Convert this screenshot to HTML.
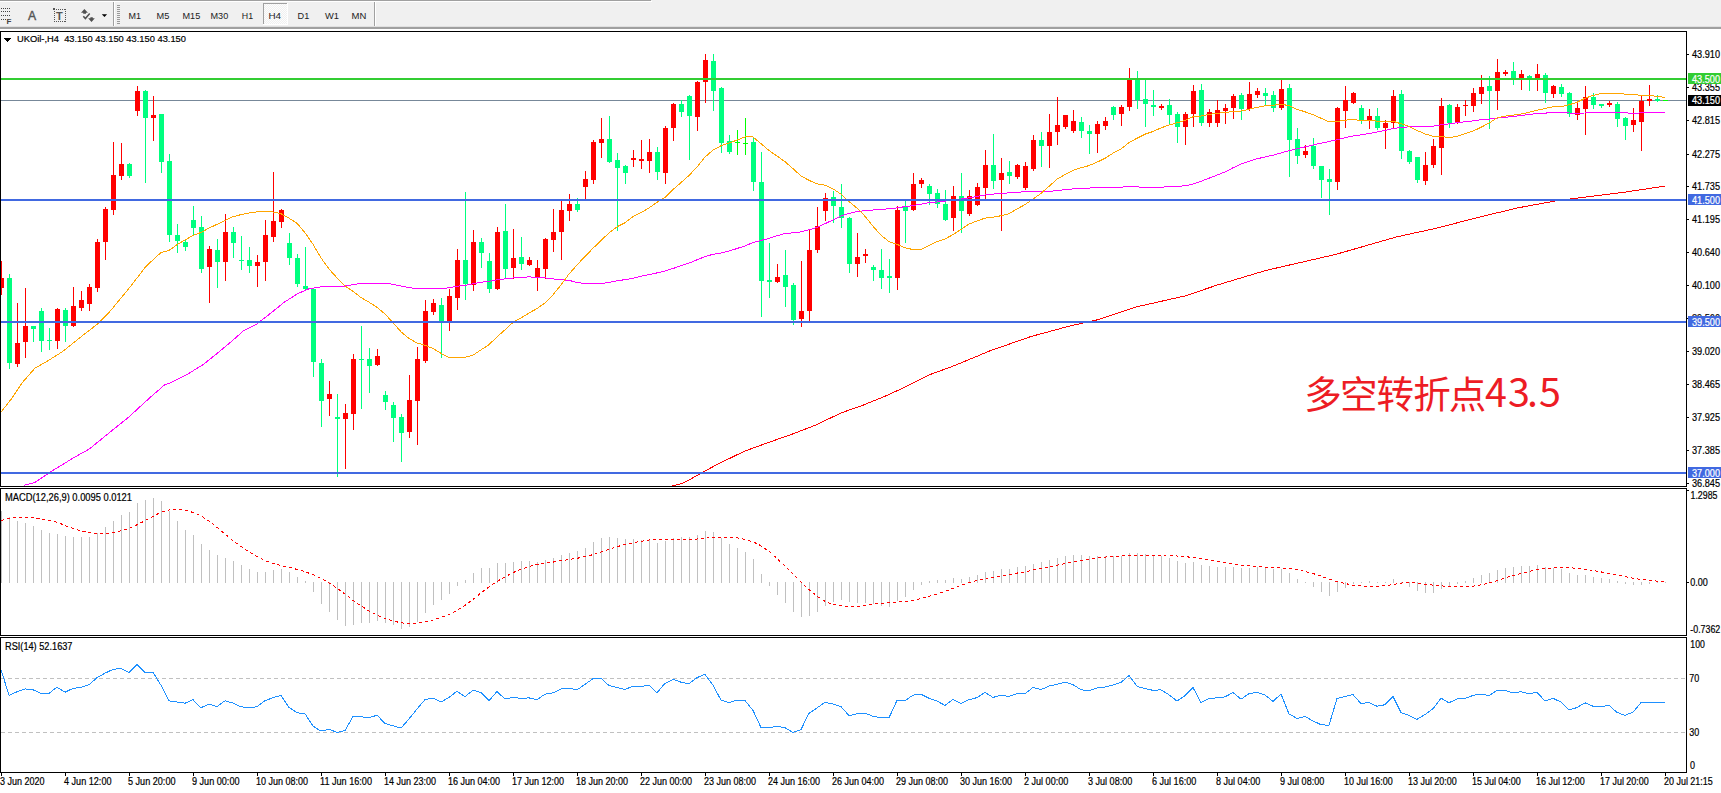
<!DOCTYPE html>
<html><head><meta charset="utf-8"><title>UKOil H4</title>
<style>html,body{margin:0;padding:0;background:#fff;overflow:hidden}svg{display:block}text{font-family:'Liberation Sans', 'Noto Sans CJK SC', sans-serif;shape-rendering:auto}</style>
</head><body>
<svg width="1721" height="793" viewBox="0 0 1721 793" shape-rendering="crispEdges">
<g font-family="'Liberation Sans', 'Noto Sans CJK SC', sans-serif"><rect x="0" y="0" width="1721" height="27" fill="#f0f0f0"/><rect x="0" y="0" width="651" height="1" fill="#a0a0a0"/><rect x="0" y="1" width="652" height="1" fill="#ffffff"/><rect x="0" y="26" width="1721" height="1" fill="#e0e0e0"/><rect x="0" y="27" width="1721" height="1" fill="#a0a0a0"/><rect x="0" y="28" width="1721" height="1" fill="#a0a0a0"/><rect x="113" y="2" width="1" height="24" fill="#a0a0a0"/><rect x="114" y="2" width="1" height="24" fill="#ffffff"/><rect x="374" y="2" width="1" height="24" fill="#a0a0a0"/><rect x="375" y="2" width="1" height="24" fill="#ffffff"/><rect x="117" y="5" width="3" height="1" fill="#9a9a9a"/><rect x="117" y="7" width="3" height="1" fill="#9a9a9a"/><rect x="117" y="9" width="3" height="1" fill="#9a9a9a"/><rect x="117" y="11" width="3" height="1" fill="#9a9a9a"/><rect x="117" y="13" width="3" height="1" fill="#9a9a9a"/><rect x="117" y="15" width="3" height="1" fill="#9a9a9a"/><rect x="117" y="17" width="3" height="1" fill="#9a9a9a"/><rect x="117" y="19" width="3" height="1" fill="#9a9a9a"/><rect x="117" y="21" width="3" height="1" fill="#9a9a9a"/><rect x="117" y="23" width="3" height="1" fill="#9a9a9a"/><defs><pattern id="chk" x="0" y="0" width="2" height="2" patternUnits="userSpaceOnUse"><rect width="2" height="2" fill="#f0f0f0"/><rect width="1" height="1" fill="#fdfdfd"/><rect x="1" y="1" width="1" height="1" fill="#fdfdfd"/></pattern></defs><rect x="263" y="3" width="25" height="22" fill="url(#chk)"/><rect x="263" y="3" width="25" height="1" fill="#a0a0a0"/><rect x="263" y="3" width="1" height="22" fill="#a0a0a0"/><rect x="263" y="24" width="25" height="1" fill="#ffffff"/><rect x="287" y="3" width="1" height="22" fill="#ffffff"/><text x="128.5" y="19" font-size="9.6" textLength="12.5" lengthAdjust="spacingAndGlyphs" fill="#222">M1</text><text x="156.5" y="19" font-size="9.6" textLength="12.8" lengthAdjust="spacingAndGlyphs" fill="#222">M5</text><text x="182.5" y="19" font-size="9.6" textLength="17.8" lengthAdjust="spacingAndGlyphs" fill="#222">M15</text><text x="210.5" y="19" font-size="9.6" textLength="17.7" lengthAdjust="spacingAndGlyphs" fill="#222">M30</text><text x="241.8" y="19" font-size="9.6" textLength="11.3" lengthAdjust="spacingAndGlyphs" fill="#222">H1</text><text x="268.4" y="19" font-size="9.6" textLength="12.6" lengthAdjust="spacingAndGlyphs" fill="#222">H4</text><text x="297.6" y="19" font-size="9.6" textLength="11.7" lengthAdjust="spacingAndGlyphs" fill="#222">D1</text><text x="325" y="19" font-size="9.6" textLength="14" lengthAdjust="spacingAndGlyphs" fill="#222">W1</text><text x="351.6" y="19" font-size="9.6" textLength="14.8" lengthAdjust="spacingAndGlyphs" fill="#222">MN</text><rect x="1" y="8" width="1" height="1" fill="#444"/><rect x="3" y="8" width="1" height="1" fill="#444"/><rect x="5" y="8" width="1" height="1" fill="#444"/><rect x="7" y="8" width="1" height="1" fill="#444"/><rect x="9" y="8" width="1" height="1" fill="#444"/><rect x="1" y="11" width="1" height="1" fill="#444"/><rect x="3" y="11" width="1" height="1" fill="#444"/><rect x="5" y="11" width="1" height="1" fill="#444"/><rect x="7" y="11" width="1" height="1" fill="#444"/><rect x="9" y="11" width="1" height="1" fill="#444"/><rect x="1" y="15" width="1" height="1" fill="#444"/><rect x="3" y="15" width="1" height="1" fill="#444"/><rect x="5" y="15" width="1" height="1" fill="#444"/><rect x="7" y="15" width="1" height="1" fill="#444"/><rect x="9" y="15" width="1" height="1" fill="#444"/><rect x="1" y="19" width="1" height="1" fill="#444"/><rect x="3" y="19" width="1" height="1" fill="#444"/><rect x="5" y="19" width="1" height="1" fill="#444"/><text x="6.5" y="24" font-size="8" font-weight="bold" fill="#444">F</text><text x="28" y="20" font-size="12.2" fill="#555" stroke="#555" stroke-width="0.4">A</text><rect x="54" y="9" width="1" height="1" fill="#555"/><rect x="54" y="21" width="1" height="1" fill="#555"/><rect x="56" y="9" width="1" height="1" fill="#555"/><rect x="56" y="21" width="1" height="1" fill="#555"/><rect x="58" y="9" width="1" height="1" fill="#555"/><rect x="58" y="21" width="1" height="1" fill="#555"/><rect x="60" y="9" width="1" height="1" fill="#555"/><rect x="60" y="21" width="1" height="1" fill="#555"/><rect x="62" y="9" width="1" height="1" fill="#555"/><rect x="62" y="21" width="1" height="1" fill="#555"/><rect x="64" y="9" width="1" height="1" fill="#555"/><rect x="64" y="21" width="1" height="1" fill="#555"/><rect x="54" y="9" width="1" height="1" fill="#555"/><rect x="65" y="9" width="1" height="1" fill="#555"/><rect x="54" y="11" width="1" height="1" fill="#555"/><rect x="65" y="11" width="1" height="1" fill="#555"/><rect x="54" y="13" width="1" height="1" fill="#555"/><rect x="65" y="13" width="1" height="1" fill="#555"/><rect x="54" y="15" width="1" height="1" fill="#555"/><rect x="65" y="15" width="1" height="1" fill="#555"/><rect x="54" y="17" width="1" height="1" fill="#555"/><rect x="65" y="17" width="1" height="1" fill="#555"/><rect x="54" y="19" width="1" height="1" fill="#555"/><rect x="65" y="19" width="1" height="1" fill="#555"/><rect x="54" y="21" width="1" height="1" fill="#555"/><rect x="65" y="21" width="1" height="1" fill="#555"/><rect x="53" y="8" width="2" height="2" fill="#555"/><text x="56" y="20" font-size="11" font-weight="bold" fill="#555">T</text><path d="M81,12.8 L84.4,9 L87.9,12.8 L86,12.8 L86,13.8 L83.2,13.8 L83.2,12.8 Z" fill="#505050" shape-rendering="auto"/><path d="M83.3,16.2 L85.4,18.6 L89.7,13.4" stroke="#505050" stroke-width="1.5" fill="none" shape-rendering="auto"/><path d="M90.4,17.2 L92.8,17.2 L92.8,18.2 L94.8,18.2 L91.5,21.9 L88.2,18.2 L90.4,18.2 Z" fill="#505050" shape-rendering="auto"/><path d="M101.8,14.2 L107.1,14.2 L104.45,17.1 Z" fill="#000" shape-rendering="auto"/></g>
<rect x="0" y="29" width="1721" height="764" fill="#ffffff"/>
<rect x="1" y="100" width="1685" height="1" fill="#778899"/><rect x="1" y="261" width="1" height="34" fill="#ff0000"/><rect x="-1" y="278" width="5" height="10" fill="#ff0000"/><rect x="9" y="274" width="1" height="95" fill="#00ff7f"/><rect x="7" y="278" width="5" height="85" fill="#00ff7f"/><rect x="17" y="303" width="1" height="64" fill="#ff0000"/><rect x="15" y="343" width="5" height="21" fill="#ff0000"/><rect x="25" y="288" width="1" height="70" fill="#ff0000"/><rect x="23" y="326" width="5" height="16" fill="#ff0000"/><rect x="33" y="326" width="1" height="16" fill="#00ff7f"/><rect x="31" y="326" width="5" height="3" fill="#00ff7f"/><rect x="41" y="308" width="1" height="44" fill="#00ff7f"/><rect x="39" y="311" width="5" height="30" fill="#00ff7f"/><rect x="49" y="328" width="1" height="22" fill="#00ff7f"/><rect x="47" y="340" width="5" height="1" fill="#00ff7f"/><rect x="57" y="308" width="1" height="41" fill="#ff0000"/><rect x="55" y="309" width="5" height="32" fill="#ff0000"/><rect x="65" y="308" width="1" height="34" fill="#00ff7f"/><rect x="63" y="310" width="5" height="16" fill="#00ff7f"/><rect x="73" y="287" width="1" height="40" fill="#ff0000"/><rect x="71" y="306" width="5" height="20" fill="#ff0000"/><rect x="81" y="291" width="1" height="20" fill="#ff0000"/><rect x="79" y="300" width="5" height="8" fill="#ff0000"/><rect x="89" y="284" width="1" height="27" fill="#ff0000"/><rect x="87" y="287" width="5" height="17" fill="#ff0000"/><rect x="97" y="239" width="1" height="53" fill="#ff0000"/><rect x="95" y="242" width="5" height="46" fill="#ff0000"/><rect x="105" y="207" width="1" height="53" fill="#ff0000"/><rect x="103" y="209" width="5" height="33" fill="#ff0000"/><rect x="113" y="142" width="1" height="73" fill="#ff0000"/><rect x="111" y="175" width="5" height="35" fill="#ff0000"/><rect x="121" y="143" width="1" height="37" fill="#ff0000"/><rect x="119" y="164" width="5" height="12" fill="#ff0000"/><rect x="129" y="163" width="1" height="15" fill="#00ff7f"/><rect x="127" y="164" width="5" height="12" fill="#00ff7f"/><rect x="137" y="86" width="1" height="30" fill="#ff0000"/><rect x="135" y="91" width="5" height="20" fill="#ff0000"/><rect x="145" y="90" width="1" height="93" fill="#00ff7f"/><rect x="143" y="91" width="5" height="27" fill="#00ff7f"/><rect x="153" y="96" width="1" height="45" fill="#ff0000"/><rect x="151" y="115" width="5" height="3" fill="#ff0000"/><rect x="161" y="114" width="1" height="59" fill="#00ff7f"/><rect x="159" y="114" width="5" height="48" fill="#00ff7f"/><rect x="169" y="154" width="1" height="88" fill="#00ff7f"/><rect x="167" y="161" width="5" height="74" fill="#00ff7f"/><rect x="177" y="224" width="1" height="29" fill="#00ff7f"/><rect x="175" y="235" width="5" height="6" fill="#00ff7f"/><rect x="185" y="240" width="1" height="11" fill="#00ff7f"/><rect x="183" y="242" width="5" height="5" fill="#00ff7f"/><rect x="193" y="206" width="1" height="30" fill="#00ff7f"/><rect x="191" y="220" width="5" height="8" fill="#00ff7f"/><rect x="201" y="216" width="1" height="57" fill="#00ff7f"/><rect x="199" y="227" width="5" height="42" fill="#00ff7f"/><rect x="209" y="246" width="1" height="57" fill="#ff0000"/><rect x="207" y="249" width="5" height="18" fill="#ff0000"/><rect x="217" y="239" width="1" height="49" fill="#00ff7f"/><rect x="215" y="250" width="5" height="12" fill="#00ff7f"/><rect x="225" y="214" width="1" height="67" fill="#ff0000"/><rect x="223" y="232" width="5" height="30" fill="#ff0000"/><rect x="233" y="227" width="1" height="31" fill="#00ff7f"/><rect x="231" y="232" width="5" height="11" fill="#00ff7f"/><rect x="241" y="236" width="1" height="34" fill="#00ff7f"/><rect x="239" y="260" width="5" height="1" fill="#00ff7f"/><rect x="249" y="247" width="1" height="26" fill="#00ff7f"/><rect x="247" y="260" width="5" height="6" fill="#00ff7f"/><rect x="257" y="255" width="1" height="32" fill="#ff0000"/><rect x="255" y="262" width="5" height="4" fill="#ff0000"/><rect x="265" y="220" width="1" height="61" fill="#ff0000"/><rect x="263" y="235" width="5" height="27" fill="#ff0000"/><rect x="273" y="172" width="1" height="70" fill="#ff0000"/><rect x="271" y="221" width="5" height="16" fill="#ff0000"/><rect x="281" y="209" width="1" height="19" fill="#ff0000"/><rect x="279" y="210" width="5" height="12" fill="#ff0000"/><rect x="289" y="233" width="1" height="32" fill="#00ff7f"/><rect x="287" y="243" width="5" height="15" fill="#00ff7f"/><rect x="297" y="254" width="1" height="33" fill="#00ff7f"/><rect x="295" y="258" width="5" height="26" fill="#00ff7f"/><rect x="305" y="247" width="1" height="44" fill="#00ff7f"/><rect x="303" y="286" width="5" height="3" fill="#00ff7f"/><rect x="313" y="288" width="1" height="89" fill="#00ff7f"/><rect x="311" y="289" width="5" height="73" fill="#00ff7f"/><rect x="321" y="359" width="1" height="68" fill="#00ff7f"/><rect x="319" y="363" width="5" height="38" fill="#00ff7f"/><rect x="329" y="381" width="1" height="35" fill="#ff0000"/><rect x="327" y="394" width="5" height="5" fill="#ff0000"/><rect x="337" y="394" width="1" height="83" fill="#00ff7f"/><rect x="335" y="417" width="5" height="2" fill="#00ff7f"/><rect x="345" y="404" width="1" height="65" fill="#ff0000"/><rect x="343" y="413" width="5" height="6" fill="#ff0000"/><rect x="353" y="354" width="1" height="76" fill="#ff0000"/><rect x="351" y="359" width="5" height="55" fill="#ff0000"/><rect x="361" y="326" width="1" height="83" fill="#00ff7f"/><rect x="359" y="359" width="5" height="1" fill="#00ff7f"/><rect x="369" y="348" width="1" height="45" fill="#00ff7f"/><rect x="367" y="359" width="5" height="7" fill="#00ff7f"/><rect x="377" y="349" width="1" height="17" fill="#ff0000"/><rect x="375" y="356" width="5" height="9" fill="#ff0000"/><rect x="385" y="391" width="1" height="19" fill="#00ff7f"/><rect x="383" y="395" width="5" height="7" fill="#00ff7f"/><rect x="393" y="402" width="1" height="40" fill="#00ff7f"/><rect x="391" y="405" width="5" height="13" fill="#00ff7f"/><rect x="401" y="414" width="1" height="48" fill="#00ff7f"/><rect x="399" y="417" width="5" height="16" fill="#00ff7f"/><rect x="409" y="375" width="1" height="63" fill="#ff0000"/><rect x="407" y="400" width="5" height="32" fill="#ff0000"/><rect x="417" y="347" width="1" height="98" fill="#ff0000"/><rect x="415" y="359" width="5" height="42" fill="#ff0000"/><rect x="425" y="300" width="1" height="63" fill="#ff0000"/><rect x="423" y="311" width="5" height="50" fill="#ff0000"/><rect x="433" y="299" width="1" height="16" fill="#ff0000"/><rect x="431" y="303" width="5" height="9" fill="#ff0000"/><rect x="441" y="298" width="1" height="60" fill="#00ff7f"/><rect x="439" y="305" width="5" height="16" fill="#00ff7f"/><rect x="449" y="289" width="1" height="42" fill="#ff0000"/><rect x="447" y="296" width="5" height="25" fill="#ff0000"/><rect x="457" y="249" width="1" height="61" fill="#ff0000"/><rect x="455" y="260" width="5" height="38" fill="#ff0000"/><rect x="465" y="192" width="1" height="108" fill="#00ff7f"/><rect x="463" y="260" width="5" height="24" fill="#00ff7f"/><rect x="473" y="230" width="1" height="61" fill="#ff0000"/><rect x="471" y="242" width="5" height="43" fill="#ff0000"/><rect x="481" y="238" width="1" height="30" fill="#00ff7f"/><rect x="479" y="242" width="5" height="11" fill="#00ff7f"/><rect x="489" y="253" width="1" height="40" fill="#00ff7f"/><rect x="487" y="261" width="5" height="28" fill="#00ff7f"/><rect x="497" y="227" width="1" height="63" fill="#ff0000"/><rect x="495" y="232" width="5" height="57" fill="#ff0000"/><rect x="505" y="204" width="1" height="74" fill="#00ff7f"/><rect x="503" y="231" width="5" height="38" fill="#00ff7f"/><rect x="513" y="229" width="1" height="50" fill="#ff0000"/><rect x="511" y="258" width="5" height="10" fill="#ff0000"/><rect x="521" y="237" width="1" height="33" fill="#00ff7f"/><rect x="519" y="257" width="5" height="7" fill="#00ff7f"/><rect x="529" y="257" width="1" height="9" fill="#ff0000"/><rect x="527" y="260" width="5" height="5" fill="#ff0000"/><rect x="537" y="260" width="1" height="31" fill="#ff0000"/><rect x="535" y="268" width="5" height="9" fill="#ff0000"/><rect x="545" y="238" width="1" height="41" fill="#ff0000"/><rect x="543" y="239" width="5" height="30" fill="#ff0000"/><rect x="553" y="209" width="1" height="43" fill="#ff0000"/><rect x="551" y="232" width="5" height="8" fill="#ff0000"/><rect x="561" y="201" width="1" height="59" fill="#ff0000"/><rect x="559" y="210" width="5" height="22" fill="#ff0000"/><rect x="569" y="194" width="1" height="27" fill="#ff0000"/><rect x="567" y="204" width="5" height="7" fill="#ff0000"/><rect x="577" y="198" width="1" height="14" fill="#00ff7f"/><rect x="575" y="204" width="5" height="6" fill="#00ff7f"/><rect x="585" y="171" width="1" height="29" fill="#ff0000"/><rect x="583" y="179" width="5" height="8" fill="#ff0000"/><rect x="593" y="140" width="1" height="44" fill="#ff0000"/><rect x="591" y="142" width="5" height="38" fill="#ff0000"/><rect x="601" y="118" width="1" height="40" fill="#ff0000"/><rect x="599" y="139" width="5" height="4" fill="#ff0000"/><rect x="609" y="116" width="1" height="47" fill="#00ff7f"/><rect x="607" y="139" width="5" height="23" fill="#00ff7f"/><rect x="617" y="153" width="1" height="78" fill="#00ff7f"/><rect x="615" y="160" width="5" height="8" fill="#00ff7f"/><rect x="625" y="165" width="1" height="19" fill="#00ff7f"/><rect x="623" y="166" width="5" height="7" fill="#00ff7f"/><rect x="633" y="150" width="1" height="17" fill="#ff0000"/><rect x="631" y="158" width="5" height="2" fill="#ff0000"/><rect x="641" y="140" width="1" height="29" fill="#ff0000"/><rect x="639" y="159" width="5" height="2" fill="#ff0000"/><rect x="649" y="139" width="1" height="34" fill="#ff0000"/><rect x="647" y="152" width="5" height="9" fill="#ff0000"/><rect x="657" y="147" width="1" height="33" fill="#00ff7f"/><rect x="655" y="152" width="5" height="20" fill="#00ff7f"/><rect x="665" y="126" width="1" height="58" fill="#ff0000"/><rect x="663" y="128" width="5" height="45" fill="#ff0000"/><rect x="673" y="103" width="1" height="38" fill="#ff0000"/><rect x="671" y="104" width="5" height="24" fill="#ff0000"/><rect x="681" y="100" width="1" height="17" fill="#00ff7f"/><rect x="679" y="104" width="5" height="8" fill="#00ff7f"/><rect x="689" y="95" width="1" height="65" fill="#00ff7f"/><rect x="687" y="96" width="5" height="20" fill="#00ff7f"/><rect x="697" y="81" width="1" height="50" fill="#ff0000"/><rect x="695" y="82" width="5" height="35" fill="#ff0000"/><rect x="705" y="54" width="1" height="49" fill="#ff0000"/><rect x="703" y="60" width="5" height="22" fill="#ff0000"/><rect x="713" y="54" width="1" height="57" fill="#00ff7f"/><rect x="711" y="61" width="5" height="30" fill="#00ff7f"/><rect x="721" y="87" width="1" height="66" fill="#00ff7f"/><rect x="719" y="88" width="5" height="55" fill="#00ff7f"/><rect x="729" y="135" width="1" height="19" fill="#00ff7f"/><rect x="727" y="141" width="5" height="11" fill="#00ff7f"/><rect x="737" y="130" width="1" height="25" fill="#00ff00"/><rect x="735" y="142" width="5" height="1" fill="#00ff00"/><rect x="745" y="118" width="1" height="37" fill="#00ff00"/><rect x="743" y="143" width="5" height="1" fill="#00ff00"/><rect x="753" y="138" width="1" height="53" fill="#00ff7f"/><rect x="751" y="142" width="5" height="40" fill="#00ff7f"/><rect x="761" y="152" width="1" height="165" fill="#00ff7f"/><rect x="759" y="182" width="5" height="99" fill="#00ff7f"/><rect x="769" y="243" width="1" height="55" fill="#00ff7f"/><rect x="767" y="280" width="5" height="2" fill="#00ff7f"/><rect x="777" y="264" width="1" height="19" fill="#ff0000"/><rect x="775" y="277" width="5" height="5" fill="#ff0000"/><rect x="785" y="250" width="1" height="57" fill="#00ff7f"/><rect x="783" y="275" width="5" height="12" fill="#00ff7f"/><rect x="793" y="283" width="1" height="42" fill="#00ff7f"/><rect x="791" y="285" width="5" height="35" fill="#00ff7f"/><rect x="801" y="261" width="1" height="66" fill="#ff0000"/><rect x="799" y="311" width="5" height="8" fill="#ff0000"/><rect x="809" y="230" width="1" height="91" fill="#ff0000"/><rect x="807" y="250" width="5" height="61" fill="#ff0000"/><rect x="817" y="207" width="1" height="46" fill="#ff0000"/><rect x="815" y="226" width="5" height="24" fill="#ff0000"/><rect x="825" y="193" width="1" height="28" fill="#ff0000"/><rect x="823" y="198" width="5" height="13" fill="#ff0000"/><rect x="833" y="191" width="1" height="32" fill="#00ff7f"/><rect x="831" y="197" width="5" height="9" fill="#00ff7f"/><rect x="841" y="184" width="1" height="44" fill="#00ff7f"/><rect x="839" y="207" width="5" height="11" fill="#00ff7f"/><rect x="849" y="217" width="1" height="56" fill="#00ff7f"/><rect x="847" y="218" width="5" height="46" fill="#00ff7f"/><rect x="857" y="233" width="1" height="44" fill="#ff0000"/><rect x="855" y="257" width="5" height="7" fill="#ff0000"/><rect x="865" y="249" width="1" height="14" fill="#ff0000"/><rect x="863" y="254" width="5" height="2" fill="#ff0000"/><rect x="873" y="265" width="1" height="16" fill="#00ff7f"/><rect x="871" y="267" width="5" height="3" fill="#00ff7f"/><rect x="881" y="249" width="1" height="40" fill="#00ff7f"/><rect x="879" y="270" width="5" height="8" fill="#00ff7f"/><rect x="889" y="259" width="1" height="34" fill="#00ff7f"/><rect x="887" y="276" width="5" height="2" fill="#00ff7f"/><rect x="897" y="206" width="1" height="84" fill="#ff0000"/><rect x="895" y="210" width="5" height="68" fill="#ff0000"/><rect x="905" y="199" width="1" height="44" fill="#00ff7f"/><rect x="903" y="207" width="5" height="4" fill="#00ff7f"/><rect x="913" y="173" width="1" height="38" fill="#ff0000"/><rect x="911" y="184" width="5" height="26" fill="#ff0000"/><rect x="921" y="178" width="1" height="10" fill="#ff0000"/><rect x="919" y="180" width="5" height="4" fill="#ff0000"/><rect x="929" y="184" width="1" height="21" fill="#00ff7f"/><rect x="927" y="186" width="5" height="8" fill="#00ff7f"/><rect x="937" y="189" width="1" height="19" fill="#00ff7f"/><rect x="935" y="193" width="5" height="11" fill="#00ff7f"/><rect x="945" y="190" width="1" height="31" fill="#00ff7f"/><rect x="943" y="204" width="5" height="16" fill="#00ff7f"/><rect x="953" y="186" width="1" height="45" fill="#ff0000"/><rect x="951" y="196" width="5" height="22" fill="#ff0000"/><rect x="961" y="173" width="1" height="60" fill="#00ff7f"/><rect x="959" y="196" width="5" height="15" fill="#00ff7f"/><rect x="969" y="190" width="1" height="26" fill="#ff0000"/><rect x="967" y="196" width="5" height="18" fill="#ff0000"/><rect x="977" y="183" width="1" height="23" fill="#ff0000"/><rect x="975" y="187" width="5" height="18" fill="#ff0000"/><rect x="985" y="150" width="1" height="49" fill="#ff0000"/><rect x="983" y="165" width="5" height="23" fill="#ff0000"/><rect x="993" y="134" width="1" height="55" fill="#00ff7f"/><rect x="991" y="165" width="5" height="16" fill="#00ff7f"/><rect x="1001" y="158" width="1" height="73" fill="#ff0000"/><rect x="999" y="173" width="5" height="7" fill="#ff0000"/><rect x="1009" y="161" width="1" height="23" fill="#00ff7f"/><rect x="1007" y="172" width="5" height="4" fill="#00ff7f"/><rect x="1017" y="164" width="1" height="15" fill="#ff0000"/><rect x="1015" y="165" width="5" height="12" fill="#ff0000"/><rect x="1025" y="162" width="1" height="28" fill="#ff0000"/><rect x="1023" y="166" width="5" height="22" fill="#ff0000"/><rect x="1033" y="135" width="1" height="36" fill="#ff0000"/><rect x="1031" y="140" width="5" height="29" fill="#ff0000"/><rect x="1041" y="132" width="1" height="35" fill="#00ff7f"/><rect x="1039" y="140" width="5" height="6" fill="#00ff7f"/><rect x="1049" y="114" width="1" height="54" fill="#ff0000"/><rect x="1047" y="132" width="5" height="14" fill="#ff0000"/><rect x="1057" y="97" width="1" height="48" fill="#ff0000"/><rect x="1055" y="125" width="5" height="7" fill="#ff0000"/><rect x="1065" y="115" width="1" height="14" fill="#ff0000"/><rect x="1063" y="115" width="5" height="12" fill="#ff0000"/><rect x="1073" y="110" width="1" height="23" fill="#ff0000"/><rect x="1071" y="121" width="5" height="10" fill="#ff0000"/><rect x="1081" y="117" width="1" height="21" fill="#00ff7f"/><rect x="1079" y="122" width="5" height="9" fill="#00ff7f"/><rect x="1089" y="125" width="1" height="29" fill="#00ff7f"/><rect x="1087" y="131" width="5" height="3" fill="#00ff7f"/><rect x="1097" y="121" width="1" height="32" fill="#ff0000"/><rect x="1095" y="124" width="5" height="10" fill="#ff0000"/><rect x="1105" y="117" width="1" height="13" fill="#ff0000"/><rect x="1103" y="121" width="5" height="5" fill="#ff0000"/><rect x="1113" y="106" width="1" height="14" fill="#00ff7f"/><rect x="1111" y="107" width="5" height="8" fill="#00ff7f"/><rect x="1121" y="105" width="1" height="21" fill="#ff0000"/><rect x="1119" y="107" width="5" height="7" fill="#ff0000"/><rect x="1129" y="68" width="1" height="43" fill="#ff0000"/><rect x="1127" y="80" width="5" height="27" fill="#ff0000"/><rect x="1137" y="71" width="1" height="38" fill="#00ff7f"/><rect x="1135" y="79" width="5" height="21" fill="#00ff7f"/><rect x="1145" y="80" width="1" height="47" fill="#00ff7f"/><rect x="1143" y="99" width="5" height="5" fill="#00ff7f"/><rect x="1153" y="90" width="1" height="26" fill="#00ff7f"/><rect x="1151" y="105" width="5" height="2" fill="#00ff7f"/><rect x="1161" y="104" width="1" height="6" fill="#ff0000"/><rect x="1159" y="106" width="5" height="2" fill="#ff0000"/><rect x="1169" y="99" width="1" height="25" fill="#00ff7f"/><rect x="1167" y="105" width="5" height="10" fill="#00ff7f"/><rect x="1177" y="112" width="1" height="31" fill="#00ff7f"/><rect x="1175" y="114" width="5" height="13" fill="#00ff7f"/><rect x="1185" y="112" width="1" height="33" fill="#ff0000"/><rect x="1183" y="114" width="5" height="13" fill="#ff0000"/><rect x="1193" y="85" width="1" height="42" fill="#ff0000"/><rect x="1191" y="91" width="5" height="23" fill="#ff0000"/><rect x="1201" y="84" width="1" height="42" fill="#00ff7f"/><rect x="1199" y="90" width="5" height="33" fill="#00ff7f"/><rect x="1209" y="109" width="1" height="18" fill="#ff0000"/><rect x="1207" y="112" width="5" height="11" fill="#ff0000"/><rect x="1217" y="100" width="1" height="27" fill="#ff0000"/><rect x="1215" y="110" width="5" height="13" fill="#ff0000"/><rect x="1225" y="104" width="1" height="20" fill="#ff0000"/><rect x="1223" y="108" width="5" height="3" fill="#ff0000"/><rect x="1233" y="94" width="1" height="25" fill="#ff0000"/><rect x="1231" y="96" width="5" height="12" fill="#ff0000"/><rect x="1241" y="93" width="1" height="27" fill="#00ff7f"/><rect x="1239" y="95" width="5" height="14" fill="#00ff7f"/><rect x="1249" y="82" width="1" height="29" fill="#ff0000"/><rect x="1247" y="94" width="5" height="15" fill="#ff0000"/><rect x="1257" y="88" width="1" height="10" fill="#ff0000"/><rect x="1255" y="91" width="5" height="4" fill="#ff0000"/><rect x="1265" y="88" width="1" height="17" fill="#00ff7f"/><rect x="1263" y="93" width="5" height="3" fill="#00ff7f"/><rect x="1273" y="91" width="1" height="21" fill="#00ff7f"/><rect x="1271" y="95" width="5" height="13" fill="#00ff7f"/><rect x="1281" y="80" width="1" height="30" fill="#ff0000"/><rect x="1279" y="89" width="5" height="19" fill="#ff0000"/><rect x="1289" y="84" width="1" height="93" fill="#00ff7f"/><rect x="1287" y="88" width="5" height="52" fill="#00ff7f"/><rect x="1297" y="128" width="1" height="36" fill="#00ff7f"/><rect x="1295" y="139" width="5" height="17" fill="#00ff7f"/><rect x="1305" y="145" width="1" height="13" fill="#ff0000"/><rect x="1303" y="151" width="5" height="4" fill="#ff0000"/><rect x="1313" y="138" width="1" height="31" fill="#00ff7f"/><rect x="1311" y="146" width="5" height="20" fill="#00ff7f"/><rect x="1321" y="166" width="1" height="32" fill="#00ff7f"/><rect x="1319" y="166" width="5" height="14" fill="#00ff7f"/><rect x="1329" y="169" width="1" height="46" fill="#00ff7f"/><rect x="1327" y="179" width="5" height="3" fill="#00ff7f"/><rect x="1337" y="107" width="1" height="83" fill="#ff0000"/><rect x="1335" y="108" width="5" height="74" fill="#ff0000"/><rect x="1345" y="86" width="1" height="42" fill="#ff0000"/><rect x="1343" y="100" width="5" height="11" fill="#ff0000"/><rect x="1353" y="92" width="1" height="12" fill="#ff0000"/><rect x="1351" y="93" width="5" height="10" fill="#ff0000"/><rect x="1361" y="105" width="1" height="19" fill="#00ff7f"/><rect x="1359" y="108" width="5" height="12" fill="#00ff7f"/><rect x="1369" y="109" width="1" height="20" fill="#ff0000"/><rect x="1367" y="116" width="5" height="4" fill="#ff0000"/><rect x="1377" y="108" width="1" height="22" fill="#00ff7f"/><rect x="1375" y="116" width="5" height="12" fill="#00ff7f"/><rect x="1385" y="120" width="1" height="29" fill="#ff0000"/><rect x="1383" y="123" width="5" height="5" fill="#ff0000"/><rect x="1393" y="90" width="1" height="38" fill="#ff0000"/><rect x="1391" y="96" width="5" height="27" fill="#ff0000"/><rect x="1401" y="90" width="1" height="69" fill="#00ff7f"/><rect x="1399" y="94" width="5" height="57" fill="#00ff7f"/><rect x="1409" y="150" width="1" height="14" fill="#00ff7f"/><rect x="1407" y="151" width="5" height="11" fill="#00ff7f"/><rect x="1417" y="157" width="1" height="26" fill="#00ff7f"/><rect x="1415" y="157" width="5" height="23" fill="#00ff7f"/><rect x="1425" y="152" width="1" height="33" fill="#ff0000"/><rect x="1423" y="165" width="5" height="16" fill="#ff0000"/><rect x="1433" y="139" width="1" height="29" fill="#ff0000"/><rect x="1431" y="146" width="5" height="19" fill="#ff0000"/><rect x="1441" y="98" width="1" height="77" fill="#ff0000"/><rect x="1439" y="106" width="5" height="42" fill="#ff0000"/><rect x="1449" y="104" width="1" height="24" fill="#00ff7f"/><rect x="1447" y="105" width="5" height="18" fill="#00ff7f"/><rect x="1457" y="104" width="1" height="20" fill="#ff0000"/><rect x="1455" y="107" width="5" height="16" fill="#ff0000"/><rect x="1465" y="100" width="1" height="16" fill="#ff0000"/><rect x="1463" y="105" width="5" height="1" fill="#ff0000"/><rect x="1473" y="88" width="1" height="24" fill="#ff0000"/><rect x="1471" y="93" width="5" height="13" fill="#ff0000"/><rect x="1481" y="75" width="1" height="29" fill="#ff0000"/><rect x="1479" y="87" width="5" height="7" fill="#ff0000"/><rect x="1489" y="76" width="1" height="53" fill="#00ff7f"/><rect x="1487" y="86" width="5" height="5" fill="#00ff7f"/><rect x="1497" y="59" width="1" height="51" fill="#ff0000"/><rect x="1495" y="72" width="5" height="19" fill="#ff0000"/><rect x="1505" y="70" width="1" height="6" fill="#ff0000"/><rect x="1503" y="72" width="5" height="2" fill="#ff0000"/><rect x="1513" y="62" width="1" height="23" fill="#00ff7f"/><rect x="1511" y="71" width="5" height="7" fill="#00ff7f"/><rect x="1521" y="70" width="1" height="20" fill="#ff0000"/><rect x="1519" y="74" width="5" height="4" fill="#ff0000"/><rect x="1529" y="75" width="1" height="16" fill="#00ff7f"/><rect x="1527" y="76" width="5" height="2" fill="#00ff7f"/><rect x="1537" y="64" width="1" height="27" fill="#ff0000"/><rect x="1535" y="74" width="5" height="5" fill="#ff0000"/><rect x="1545" y="73" width="1" height="30" fill="#00ff7f"/><rect x="1543" y="75" width="5" height="18" fill="#00ff7f"/><rect x="1553" y="85" width="1" height="13" fill="#ff0000"/><rect x="1551" y="86" width="5" height="8" fill="#ff0000"/><rect x="1561" y="84" width="1" height="13" fill="#00ff7f"/><rect x="1559" y="87" width="5" height="7" fill="#00ff7f"/><rect x="1569" y="92" width="1" height="25" fill="#00ff7f"/><rect x="1567" y="93" width="5" height="21" fill="#00ff7f"/><rect x="1577" y="101" width="1" height="19" fill="#ff0000"/><rect x="1575" y="108" width="5" height="7" fill="#ff0000"/><rect x="1585" y="86" width="1" height="49" fill="#ff0000"/><rect x="1583" y="97" width="5" height="12" fill="#ff0000"/><rect x="1593" y="93" width="1" height="16" fill="#00ff7f"/><rect x="1591" y="97" width="5" height="8" fill="#00ff7f"/><rect x="1601" y="104" width="1" height="4" fill="#00ff7f"/><rect x="1599" y="104" width="5" height="2" fill="#00ff7f"/><rect x="1609" y="101" width="1" height="6" fill="#ff0000"/><rect x="1607" y="103" width="5" height="2" fill="#ff0000"/><rect x="1617" y="102" width="1" height="25" fill="#00ff7f"/><rect x="1615" y="104" width="5" height="15" fill="#00ff7f"/><rect x="1625" y="117" width="1" height="23" fill="#00ff7f"/><rect x="1623" y="118" width="5" height="8" fill="#00ff7f"/><rect x="1633" y="108" width="1" height="24" fill="#ff0000"/><rect x="1631" y="120" width="5" height="5" fill="#ff0000"/><rect x="1641" y="96" width="1" height="55" fill="#ff0000"/><rect x="1639" y="101" width="5" height="21" fill="#ff0000"/><rect x="1649" y="85" width="1" height="21" fill="#ff0000"/><rect x="1647" y="99" width="5" height="2" fill="#ff0000"/><rect x="1657" y="95" width="1" height="7" fill="#00ff7f"/><rect x="1655" y="99" width="5" height="2" fill="#00ff7f"/><rect x="1663" y="100" width="5" height="1" fill="#00ff00"/><svg x="1" y="32" width="1685" height="454" viewBox="1 32 1685 454" overflow="hidden"><polyline points="672.1,485.8 681.2,483.8 690.3,479.3 702.4,472.3 720.5,462.8 744.7,451.1 771.0,441.6 791.2,434.5 815.4,425.2 841.6,412.7 861.8,405.7 888.0,395.0 906.2,386.5 930.4,374.4 952.6,366.3 974.8,357.2 990.0,350.8 1030.7,336.6 1071.3,325.6 1095.7,320.3 1136.4,306.9 1185.2,295.9 1217.7,284.9 1266.5,270.3 1335.7,254.4 1396.7,236.9 1437.3,228.0 1478.0,217.4 1518.7,207.7 1559.3,200.3 1575.6,198.3 1624.4,192.2 1665.0,186.1" fill="none" stroke="#ff0000" stroke-width="1" shape-rendering="crispEdges"/><polyline points="23.8,485.4 34.8,482.5 51.2,471.5 73.2,458.0 89.6,448.8 109.8,432.3 128.0,417.7 150.0,397.6 164.7,384.8 170.0,383.0 186.4,374.8 202.8,364.9 219.2,351.8 235.6,337.9 243.8,330.5 256.9,323.9 271.6,312.5 284.8,301.8 297.9,293.6 309.3,288.7 325.7,286.2 343.8,286.2 360.2,283.4 388.0,283.4 406.0,287.0 415.9,288.7 433.0,288.2 441.0,289.0 449.0,287.7 457.0,286.2 465.0,285.5 473.0,283.9 481.0,282.3 489.0,281.3 497.0,279.9 505.0,278.9 513.0,278.0 521.0,277.4 529.0,276.9 537.0,277.4 545.0,277.9 553.0,278.9 561.0,279.8 569.0,280.3 577.0,282.5 585.0,283.5 593.0,284.0 601.0,283.6 609.0,282.3 617.0,280.9 625.0,279.6 633.0,278.3 641.0,276.3 649.0,274.6 657.0,272.9 665.0,271.0 673.0,268.5 681.0,265.8 689.0,263.1 697.0,259.8 705.0,256.6 713.0,254.3 721.0,253.0 729.0,251.1 737.0,248.5 745.0,245.9 753.0,242.6 761.0,240.4 769.0,238.4 777.0,235.8 785.0,233.5 793.0,232.8 801.0,231.9 809.0,229.8 817.0,227.4 825.0,223.7 833.0,219.9 841.0,216.0 849.0,213.5 857.0,211.6 865.0,210.6 873.0,210.0 881.0,209.2 889.0,208.9 897.0,207.9 905.0,206.6 913.0,205.6 921.0,204.2 929.0,202.5 937.0,202.0 945.0,201.1 953.0,200.0 961.0,199.0 969.0,197.9 977.0,196.4 985.0,195.0 993.0,194.1 1001.0,193.4 1009.0,192.9 1017.0,192.1 1025.0,191.9 1033.0,191.8 1041.0,192.0 1049.0,191.4 1057.0,190.6 1065.0,189.6 1073.0,188.9 1081.0,188.4 1089.0,188.1 1097.0,187.2 1105.0,187.1 1113.0,187.3 1121.0,187.2 1129.0,186.5 1137.0,186.8 1145.0,187.6 1153.0,187.9 1161.0,187.3 1169.0,186.6 1177.0,186.3 1185.0,185.8 1193.0,184.1 1201.0,181.3 1209.0,178.2 1217.0,175.1 1225.0,171.9 1233.0,167.8 1241.0,164.1 1249.0,161.3 1257.0,158.8 1265.0,157.0 1273.0,155.2 1281.0,152.9 1289.0,150.6 1297.0,148.8 1305.0,146.9 1313.0,145.0 1321.0,143.2 1329.0,141.5 1337.0,139.7 1345.0,137.7 1353.0,136.0 1361.0,134.9 1369.0,133.5 1377.0,132.1 1385.0,130.4 1393.0,128.6 1401.0,127.5 1409.0,126.8 1417.0,126.7 1425.0,126.7 1433.0,126.1 1441.0,124.9 1449.0,123.9 1457.0,122.8 1465.0,121.7 1473.0,120.9 1481.0,119.8 1489.0,119.1 1497.0,118.1 1505.0,117.3 1513.0,116.6 1521.0,115.5 1529.0,114.5 1537.0,113.6 1545.0,113.1 1553.0,112.6 1561.0,112.4 1569.0,113.0 1577.0,113.1 1585.0,113.0 1593.0,112.9 1601.0,112.9 1609.0,112.7 1617.0,112.6 1625.0,112.8 1633.0,113.3 1641.0,112.9 1649.0,112.7 1657.0,112.5 1665.0,112.4" fill="none" stroke="#ff00ff" stroke-width="1" shape-rendering="crispEdges"/><polyline points="0.0,413.3 11.0,399.4 22.0,383.0 34.8,368.3 47.6,361.0 62.2,351.8 80.5,337.2 97.0,324.4 109.8,311.6 128.0,289.6 146.4,265.9 161.0,252.5 169.0,250.5 177.0,244.6 185.0,240.0 193.0,235.4 201.0,232.5 209.0,228.1 217.0,224.3 225.0,220.7 233.0,216.7 241.0,214.6 249.0,213.0 257.0,211.8 265.0,211.4 273.0,212.0 281.0,213.7 289.0,218.2 297.0,223.3 305.0,232.7 313.0,244.3 321.0,257.9 329.0,269.0 337.0,277.8 345.0,286.0 353.0,291.3 361.0,297.6 369.0,302.2 377.0,307.3 385.0,314.0 393.0,322.8 401.0,331.8 409.0,338.5 417.0,342.9 425.0,345.3 433.0,348.5 441.0,353.3 449.0,357.4 457.0,357.4 465.0,357.4 473.0,355.2 481.0,349.9 489.0,344.6 497.0,336.9 505.0,329.8 513.0,322.4 521.0,317.9 529.0,313.1 537.0,308.5 545.0,302.9 553.0,294.8 561.0,284.9 569.0,274.0 577.0,265.0 585.0,256.4 593.0,248.3 601.0,240.5 609.0,232.9 617.0,226.8 625.0,222.7 633.0,216.7 641.0,212.7 649.0,207.9 657.0,202.3 665.0,197.4 673.0,189.5 681.0,182.6 689.0,175.5 697.0,167.0 705.0,157.1 713.0,150.1 721.0,145.8 729.0,143.1 737.0,140.1 745.0,136.9 753.0,137.0 761.0,143.7 769.0,150.5 777.0,156.0 785.0,161.7 793.0,168.7 801.0,176.0 809.0,180.3 817.0,183.9 825.0,185.1 833.0,188.8 841.0,194.2 849.0,201.5 857.0,208.2 865.0,216.3 873.0,226.3 881.0,235.2 889.0,241.6 897.0,244.4 905.0,247.7 913.0,249.6 921.0,249.5 929.0,245.4 937.0,241.7 945.0,239.0 953.0,234.6 961.0,229.5 969.0,224.0 977.0,221.0 985.0,218.1 993.0,217.3 1001.0,215.7 1009.0,213.7 1017.0,209.0 1025.0,204.6 1033.0,199.2 1041.0,193.3 1049.0,186.4 1057.0,179.1 1065.0,174.6 1073.0,170.3 1081.0,167.8 1089.0,165.6 1097.0,162.2 1105.0,158.3 1113.0,153.2 1121.0,149.0 1129.0,142.7 1137.0,138.2 1145.0,134.2 1153.0,131.5 1161.0,127.9 1169.0,125.1 1177.0,122.8 1185.0,120.4 1193.0,116.8 1201.0,116.0 1209.0,114.4 1217.0,113.3 1225.0,112.5 1233.0,111.6 1241.0,111.1 1249.0,109.3 1257.0,107.3 1265.0,105.9 1273.0,105.4 1281.0,104.1 1289.0,105.7 1297.0,109.3 1305.0,111.8 1313.0,114.7 1321.0,118.2 1329.0,121.8 1337.0,121.5 1345.0,120.3 1353.0,119.3 1361.0,120.7 1369.0,120.3 1377.0,121.1 1385.0,121.7 1393.0,121.2 1401.0,123.8 1409.0,126.3 1417.0,130.4 1425.0,133.9 1433.0,136.3 1441.0,136.2 1449.0,137.8 1457.0,136.2 1465.0,133.8 1473.0,131.1 1481.0,127.3 1489.0,123.1 1497.0,117.9 1505.0,116.1 1513.0,115.1 1521.0,114.1 1529.0,112.2 1537.0,110.2 1545.0,108.5 1553.0,106.7 1561.0,106.6 1569.0,104.8 1577.0,102.3 1585.0,98.3 1593.0,95.4 1601.0,93.5 1609.0,93.3 1617.0,93.2 1625.0,94.1 1633.0,94.8 1641.0,95.1 1649.0,95.7 1657.0,96.2 1665.0,97.5" fill="none" stroke="#ffa500" stroke-width="1" shape-rendering="crispEdges"/></svg><rect x="1" y="199" width="1685" height="2" fill="#4169e1"/><rect x="1" y="321" width="1685" height="2" fill="#4169e1"/><rect x="1" y="472" width="1685" height="2" fill="#4169e1"/><rect x="1" y="78" width="1685" height="2" fill="#32cd32"/><rect x="1" y="511" width="1" height="72" fill="#c0c0c0"/><rect x="9" y="517" width="1" height="66" fill="#c0c0c0"/><rect x="17" y="521" width="1" height="62" fill="#c0c0c0"/><rect x="25" y="523" width="1" height="60" fill="#c0c0c0"/><rect x="33" y="526" width="1" height="57" fill="#c0c0c0"/><rect x="41" y="530" width="1" height="53" fill="#c0c0c0"/><rect x="49" y="533" width="1" height="50" fill="#c0c0c0"/><rect x="57" y="534" width="1" height="49" fill="#c0c0c0"/><rect x="65" y="536" width="1" height="47" fill="#c0c0c0"/><rect x="73" y="537" width="1" height="46" fill="#c0c0c0"/><rect x="81" y="537" width="1" height="46" fill="#c0c0c0"/><rect x="89" y="537" width="1" height="46" fill="#c0c0c0"/><rect x="97" y="533" width="1" height="50" fill="#c0c0c0"/><rect x="105" y="527" width="1" height="56" fill="#c0c0c0"/><rect x="113" y="521" width="1" height="62" fill="#c0c0c0"/><rect x="121" y="515" width="1" height="68" fill="#c0c0c0"/><rect x="129" y="512" width="1" height="71" fill="#c0c0c0"/><rect x="137" y="503" width="1" height="80" fill="#c0c0c0"/><rect x="145" y="500" width="1" height="83" fill="#c0c0c0"/><rect x="153" y="498" width="1" height="85" fill="#c0c0c0"/><rect x="161" y="501" width="1" height="82" fill="#c0c0c0"/><rect x="169" y="511" width="1" height="72" fill="#c0c0c0"/><rect x="177" y="521" width="1" height="62" fill="#c0c0c0"/><rect x="185" y="530" width="1" height="53" fill="#c0c0c0"/><rect x="193" y="535" width="1" height="48" fill="#c0c0c0"/><rect x="201" y="544" width="1" height="39" fill="#c0c0c0"/><rect x="209" y="550" width="1" height="33" fill="#c0c0c0"/><rect x="217" y="555" width="1" height="28" fill="#c0c0c0"/><rect x="225" y="558" width="1" height="25" fill="#c0c0c0"/><rect x="233" y="561" width="1" height="22" fill="#c0c0c0"/><rect x="241" y="565" width="1" height="18" fill="#c0c0c0"/><rect x="249" y="569" width="1" height="14" fill="#c0c0c0"/><rect x="257" y="572" width="1" height="11" fill="#c0c0c0"/><rect x="265" y="572" width="1" height="11" fill="#c0c0c0"/><rect x="273" y="570" width="1" height="13" fill="#c0c0c0"/><rect x="281" y="569" width="1" height="14" fill="#c0c0c0"/><rect x="289" y="572" width="1" height="11" fill="#c0c0c0"/><rect x="297" y="577" width="1" height="6" fill="#c0c0c0"/><rect x="305" y="581" width="1" height="2" fill="#c0c0c0"/><rect x="313" y="582" width="1" height="10" fill="#c0c0c0"/><rect x="321" y="582" width="1" height="22" fill="#c0c0c0"/><rect x="329" y="582" width="1" height="30" fill="#c0c0c0"/><rect x="337" y="582" width="1" height="38" fill="#c0c0c0"/><rect x="345" y="582" width="1" height="44" fill="#c0c0c0"/><rect x="353" y="582" width="1" height="43" fill="#c0c0c0"/><rect x="361" y="582" width="1" height="41" fill="#c0c0c0"/><rect x="369" y="582" width="1" height="41" fill="#c0c0c0"/><rect x="377" y="582" width="1" height="39" fill="#c0c0c0"/><rect x="385" y="582" width="1" height="41" fill="#c0c0c0"/><rect x="393" y="582" width="1" height="43" fill="#c0c0c0"/><rect x="401" y="582" width="1" height="47" fill="#c0c0c0"/><rect x="409" y="582" width="1" height="45" fill="#c0c0c0"/><rect x="417" y="582" width="1" height="40" fill="#c0c0c0"/><rect x="425" y="582" width="1" height="31" fill="#c0c0c0"/><rect x="433" y="582" width="1" height="23" fill="#c0c0c0"/><rect x="441" y="582" width="1" height="18" fill="#c0c0c0"/><rect x="449" y="582" width="1" height="12" fill="#c0c0c0"/><rect x="457" y="582" width="1" height="4" fill="#c0c0c0"/><rect x="465" y="580" width="1" height="3" fill="#c0c0c0"/><rect x="473" y="573" width="1" height="10" fill="#c0c0c0"/><rect x="481" y="568" width="1" height="15" fill="#c0c0c0"/><rect x="489" y="568" width="1" height="15" fill="#c0c0c0"/><rect x="497" y="563" width="1" height="20" fill="#c0c0c0"/><rect x="505" y="563" width="1" height="20" fill="#c0c0c0"/><rect x="513" y="562" width="1" height="21" fill="#c0c0c0"/><rect x="521" y="561" width="1" height="22" fill="#c0c0c0"/><rect x="529" y="561" width="1" height="22" fill="#c0c0c0"/><rect x="537" y="562" width="1" height="21" fill="#c0c0c0"/><rect x="545" y="560" width="1" height="23" fill="#c0c0c0"/><rect x="553" y="558" width="1" height="25" fill="#c0c0c0"/><rect x="561" y="555" width="1" height="28" fill="#c0c0c0"/><rect x="569" y="553" width="1" height="30" fill="#c0c0c0"/><rect x="577" y="551" width="1" height="32" fill="#c0c0c0"/><rect x="585" y="548" width="1" height="35" fill="#c0c0c0"/><rect x="593" y="542" width="1" height="41" fill="#c0c0c0"/><rect x="601" y="538" width="1" height="45" fill="#c0c0c0"/><rect x="609" y="537" width="1" height="46" fill="#c0c0c0"/><rect x="617" y="538" width="1" height="45" fill="#c0c0c0"/><rect x="625" y="539" width="1" height="44" fill="#c0c0c0"/><rect x="633" y="539" width="1" height="44" fill="#c0c0c0"/><rect x="641" y="540" width="1" height="43" fill="#c0c0c0"/><rect x="649" y="540" width="1" height="43" fill="#c0c0c0"/><rect x="657" y="543" width="1" height="40" fill="#c0c0c0"/><rect x="665" y="541" width="1" height="42" fill="#c0c0c0"/><rect x="673" y="538" width="1" height="45" fill="#c0c0c0"/><rect x="681" y="537" width="1" height="46" fill="#c0c0c0"/><rect x="689" y="537" width="1" height="46" fill="#c0c0c0"/><rect x="697" y="535" width="1" height="48" fill="#c0c0c0"/><rect x="705" y="531" width="1" height="52" fill="#c0c0c0"/><rect x="713" y="532" width="1" height="51" fill="#c0c0c0"/><rect x="721" y="538" width="1" height="45" fill="#c0c0c0"/><rect x="729" y="544" width="1" height="39" fill="#c0c0c0"/><rect x="737" y="548" width="1" height="35" fill="#c0c0c0"/><rect x="745" y="552" width="1" height="31" fill="#c0c0c0"/><rect x="753" y="559" width="1" height="24" fill="#c0c0c0"/><rect x="761" y="574" width="1" height="9" fill="#c0c0c0"/><rect x="769" y="582" width="1" height="4" fill="#c0c0c0"/><rect x="777" y="582" width="1" height="13" fill="#c0c0c0"/><rect x="785" y="582" width="1" height="21" fill="#c0c0c0"/><rect x="793" y="582" width="1" height="30" fill="#c0c0c0"/><rect x="801" y="582" width="1" height="35" fill="#c0c0c0"/><rect x="809" y="582" width="1" height="34" fill="#c0c0c0"/><rect x="817" y="582" width="1" height="30" fill="#c0c0c0"/><rect x="825" y="582" width="1" height="24" fill="#c0c0c0"/><rect x="833" y="582" width="1" height="20" fill="#c0c0c0"/><rect x="841" y="582" width="1" height="18" fill="#c0c0c0"/><rect x="849" y="582" width="1" height="20" fill="#c0c0c0"/><rect x="857" y="582" width="1" height="21" fill="#c0c0c0"/><rect x="865" y="582" width="1" height="21" fill="#c0c0c0"/><rect x="873" y="582" width="1" height="22" fill="#c0c0c0"/><rect x="881" y="582" width="1" height="24" fill="#c0c0c0"/><rect x="889" y="582" width="1" height="25" fill="#c0c0c0"/><rect x="897" y="582" width="1" height="19" fill="#c0c0c0"/><rect x="905" y="582" width="1" height="15" fill="#c0c0c0"/><rect x="913" y="582" width="1" height="8" fill="#c0c0c0"/><rect x="921" y="582" width="1" height="3" fill="#c0c0c0"/><rect x="929" y="581" width="1" height="2" fill="#c0c0c0"/><rect x="937" y="580" width="1" height="3" fill="#c0c0c0"/><rect x="945" y="580" width="1" height="3" fill="#c0c0c0"/><rect x="953" y="578" width="1" height="5" fill="#c0c0c0"/><rect x="961" y="579" width="1" height="4" fill="#c0c0c0"/><rect x="969" y="577" width="1" height="6" fill="#c0c0c0"/><rect x="977" y="575" width="1" height="8" fill="#c0c0c0"/><rect x="985" y="572" width="1" height="11" fill="#c0c0c0"/><rect x="993" y="571" width="1" height="12" fill="#c0c0c0"/><rect x="1001" y="569" width="1" height="14" fill="#c0c0c0"/><rect x="1009" y="569" width="1" height="14" fill="#c0c0c0"/><rect x="1017" y="567" width="1" height="16" fill="#c0c0c0"/><rect x="1025" y="566" width="1" height="17" fill="#c0c0c0"/><rect x="1033" y="564" width="1" height="19" fill="#c0c0c0"/><rect x="1041" y="562" width="1" height="21" fill="#c0c0c0"/><rect x="1049" y="560" width="1" height="23" fill="#c0c0c0"/><rect x="1057" y="558" width="1" height="25" fill="#c0c0c0"/><rect x="1065" y="556" width="1" height="27" fill="#c0c0c0"/><rect x="1073" y="555" width="1" height="28" fill="#c0c0c0"/><rect x="1081" y="555" width="1" height="28" fill="#c0c0c0"/><rect x="1089" y="556" width="1" height="27" fill="#c0c0c0"/><rect x="1097" y="556" width="1" height="27" fill="#c0c0c0"/><rect x="1105" y="556" width="1" height="27" fill="#c0c0c0"/><rect x="1113" y="556" width="1" height="27" fill="#c0c0c0"/><rect x="1121" y="556" width="1" height="27" fill="#c0c0c0"/><rect x="1129" y="553" width="1" height="30" fill="#c0c0c0"/><rect x="1137" y="553" width="1" height="30" fill="#c0c0c0"/><rect x="1145" y="554" width="1" height="29" fill="#c0c0c0"/><rect x="1153" y="555" width="1" height="28" fill="#c0c0c0"/><rect x="1161" y="556" width="1" height="27" fill="#c0c0c0"/><rect x="1169" y="558" width="1" height="25" fill="#c0c0c0"/><rect x="1177" y="561" width="1" height="22" fill="#c0c0c0"/><rect x="1185" y="563" width="1" height="20" fill="#c0c0c0"/><rect x="1193" y="562" width="1" height="21" fill="#c0c0c0"/><rect x="1201" y="565" width="1" height="18" fill="#c0c0c0"/><rect x="1209" y="566" width="1" height="17" fill="#c0c0c0"/><rect x="1217" y="567" width="1" height="16" fill="#c0c0c0"/><rect x="1225" y="567" width="1" height="16" fill="#c0c0c0"/><rect x="1233" y="567" width="1" height="16" fill="#c0c0c0"/><rect x="1241" y="568" width="1" height="15" fill="#c0c0c0"/><rect x="1249" y="568" width="1" height="15" fill="#c0c0c0"/><rect x="1257" y="567" width="1" height="16" fill="#c0c0c0"/><rect x="1265" y="568" width="1" height="15" fill="#c0c0c0"/><rect x="1273" y="569" width="1" height="14" fill="#c0c0c0"/><rect x="1281" y="569" width="1" height="14" fill="#c0c0c0"/><rect x="1289" y="573" width="1" height="10" fill="#c0c0c0"/><rect x="1297" y="579" width="1" height="4" fill="#c0c0c0"/><rect x="1305" y="582" width="1" height="1" fill="#c0c0c0"/><rect x="1313" y="582" width="1" height="5" fill="#c0c0c0"/><rect x="1321" y="582" width="1" height="10" fill="#c0c0c0"/><rect x="1329" y="582" width="1" height="14" fill="#c0c0c0"/><rect x="1337" y="582" width="1" height="10" fill="#c0c0c0"/><rect x="1345" y="582" width="1" height="6" fill="#c0c0c0"/><rect x="1353" y="582" width="1" height="2" fill="#c0c0c0"/><rect x="1361" y="582" width="1" height="1" fill="#c0c0c0"/><rect x="1369" y="581" width="1" height="2" fill="#c0c0c0"/><rect x="1377" y="582" width="1" height="1" fill="#c0c0c0"/><rect x="1385" y="582" width="1" height="1" fill="#c0c0c0"/><rect x="1393" y="579" width="1" height="4" fill="#c0c0c0"/><rect x="1401" y="582" width="1" height="1" fill="#c0c0c0"/><rect x="1409" y="582" width="1" height="5" fill="#c0c0c0"/><rect x="1417" y="582" width="1" height="9" fill="#c0c0c0"/><rect x="1425" y="582" width="1" height="11" fill="#c0c0c0"/><rect x="1433" y="582" width="1" height="11" fill="#c0c0c0"/><rect x="1441" y="582" width="1" height="7" fill="#c0c0c0"/><rect x="1449" y="582" width="1" height="5" fill="#c0c0c0"/><rect x="1457" y="582" width="1" height="2" fill="#c0c0c0"/><rect x="1465" y="581" width="1" height="2" fill="#c0c0c0"/><rect x="1473" y="578" width="1" height="5" fill="#c0c0c0"/><rect x="1481" y="575" width="1" height="8" fill="#c0c0c0"/><rect x="1489" y="573" width="1" height="10" fill="#c0c0c0"/><rect x="1497" y="570" width="1" height="13" fill="#c0c0c0"/><rect x="1505" y="568" width="1" height="15" fill="#c0c0c0"/><rect x="1513" y="567" width="1" height="16" fill="#c0c0c0"/><rect x="1521" y="566" width="1" height="17" fill="#c0c0c0"/><rect x="1529" y="566" width="1" height="17" fill="#c0c0c0"/><rect x="1537" y="565" width="1" height="18" fill="#c0c0c0"/><rect x="1545" y="567" width="1" height="16" fill="#c0c0c0"/><rect x="1553" y="568" width="1" height="15" fill="#c0c0c0"/><rect x="1561" y="569" width="1" height="14" fill="#c0c0c0"/><rect x="1569" y="573" width="1" height="10" fill="#c0c0c0"/><rect x="1577" y="575" width="1" height="8" fill="#c0c0c0"/><rect x="1585" y="575" width="1" height="8" fill="#c0c0c0"/><rect x="1593" y="577" width="1" height="6" fill="#c0c0c0"/><rect x="1601" y="578" width="1" height="5" fill="#c0c0c0"/><rect x="1609" y="579" width="1" height="4" fill="#c0c0c0"/><rect x="1617" y="581" width="1" height="2" fill="#c0c0c0"/><rect x="1625" y="582" width="1" height="2" fill="#c0c0c0"/><rect x="1633" y="582" width="1" height="3" fill="#c0c0c0"/><rect x="1641" y="582" width="1" height="3" fill="#c0c0c0"/><rect x="1649" y="582" width="1" height="2" fill="#c0c0c0"/><rect x="1657" y="582" width="1" height="1" fill="#c0c0c0"/><rect x="1665" y="582" width="1" height="1" fill="#c0c0c0"/><polyline points="1.0,520.5 8.0,518.5 14.0,517.5 33.0,517.5 38.0,518.5 45.0,519.8 50.0,520.3 57.0,522.2 62.0,524.2 65.0,525.7 73.0,528.5 81.0,530.8 89.0,532.5 97.0,533.6 105.0,533.8 113.0,532.8 121.0,530.8 129.0,528.4 137.0,524.8 145.0,520.7 153.0,516.3 161.0,512.3 169.0,509.9 177.0,509.2 185.0,510.2 193.0,512.4 201.0,515.9 209.0,521.1 217.0,527.3 225.0,534.0 233.0,540.6 241.0,546.5 249.0,551.8 257.0,556.5 265.0,560.5 273.0,563.4 281.0,565.5 289.0,567.3 297.0,569.4 305.0,571.7 313.0,574.7 321.0,578.4 329.0,582.8 337.0,588.1 345.0,594.1 353.0,600.3 361.0,605.9 369.0,610.9 377.0,615.2 385.0,618.5 393.0,621.0 401.0,622.8 409.0,623.6 417.0,623.2 425.0,621.9 433.0,619.9 441.0,617.4 449.0,614.5 457.0,610.4 465.0,605.4 473.0,599.4 481.0,592.9 489.0,587.0 497.0,581.5 505.0,576.9 513.0,572.7 521.0,569.2 529.0,566.6 537.0,564.6 545.0,563.2 553.0,562.1 561.0,560.7 569.0,559.5 577.0,558.3 585.0,556.7 593.0,554.6 601.0,552.0 609.0,549.2 617.0,546.7 625.0,544.5 633.0,542.7 641.0,541.3 649.0,540.0 657.0,539.5 665.0,539.4 673.0,539.4 681.0,539.5 689.0,539.5 697.0,539.0 705.0,538.2 713.0,537.3 721.0,537.1 729.0,537.2 737.0,537.9 745.0,539.4 753.0,541.8 761.0,545.8 769.0,551.4 777.0,558.4 785.0,566.1 793.0,574.2 801.0,582.2 809.0,589.6 817.0,596.2 825.0,601.4 833.0,604.4 841.0,605.9 849.0,606.7 857.0,606.7 865.0,605.7 873.0,604.3 881.0,603.2 889.0,602.7 897.0,602.1 905.0,601.5 913.0,600.5 921.0,598.6 929.0,596.3 937.0,593.9 945.0,591.3 953.0,588.4 961.0,585.3 969.0,582.7 977.0,580.5 985.0,578.5 993.0,577.1 1001.0,575.8 1009.0,574.5 1017.0,573.1 1025.0,571.8 1033.0,570.1 1041.0,568.5 1049.0,566.7 1057.0,565.2 1065.0,563.5 1073.0,561.8 1081.0,560.3 1089.0,559.0 1097.0,557.9 1105.0,557.1 1113.0,556.4 1121.0,555.9 1129.0,555.4 1137.0,555.1 1145.0,555.1 1153.0,555.1 1161.0,555.1 1169.0,555.4 1177.0,556.0 1185.0,556.7 1193.0,557.4 1201.0,558.7 1209.0,560.1 1217.0,561.5 1225.0,562.9 1233.0,564.0 1241.0,565.1 1249.0,565.8 1257.0,566.3 1265.0,567.0 1273.0,567.5 1281.0,567.8 1289.0,568.6 1297.0,569.8 1305.0,571.5 1313.0,573.5 1321.0,576.1 1329.0,579.1 1337.0,581.6 1345.0,583.5 1353.0,585.1 1361.0,586.0 1369.0,586.3 1377.0,586.3 1385.0,585.8 1393.0,584.5 1401.0,583.1 1409.0,582.6 1417.0,583.0 1425.0,584.1 1433.0,585.1 1441.0,585.9 1449.0,586.3 1457.0,586.5 1465.0,586.6 1473.0,586.1 1481.0,584.9 1489.0,583.0 1497.0,580.6 1505.0,577.9 1513.0,575.6 1521.0,573.4 1529.0,571.5 1537.0,569.8 1545.0,568.6 1553.0,567.8 1561.0,567.4 1569.0,567.6 1577.0,568.4 1585.0,569.3 1593.0,570.5 1601.0,571.9 1609.0,573.4 1617.0,574.9 1625.0,576.6 1633.0,578.2 1641.0,579.4 1649.0,580.3 1657.0,581.1 1665.0,581.7" fill="none" stroke="#ff0000" stroke-width="1" stroke-dasharray="3,3" shape-rendering="crispEdges"/><line x1="1" y1="678.5" x2="1686" y2="678.5" stroke="#c0c0c0" stroke-width="1" stroke-dasharray="4,3"/><line x1="1" y1="732.5" x2="1686" y2="732.5" stroke="#c0c0c0" stroke-width="1" stroke-dasharray="4,3"/><polyline points="1.0,669.6 9.0,695.3 17.0,691.8 25.0,688.9 33.0,689.8 41.0,693.3 49.0,693.3 57.0,687.2 65.0,692.2 73.0,688.4 81.0,687.3 89.0,684.8 97.0,677.6 105.0,673.2 113.0,669.4 121.0,668.3 129.0,672.6 137.0,664.3 145.0,672.6 153.0,672.2 161.0,685.3 169.0,700.9 177.0,702.0 185.0,703.2 193.0,699.7 201.0,707.7 209.0,704.0 217.0,706.5 225.0,700.8 233.0,703.1 241.0,706.8 249.0,707.8 257.0,706.8 265.0,700.7 273.0,697.7 281.0,695.4 289.0,707.4 297.0,712.7 305.0,713.8 313.0,726.1 321.0,731.1 329.0,729.2 337.0,732.4 345.0,730.6 353.0,716.6 361.0,716.8 369.0,717.8 377.0,715.2 385.0,723.4 393.0,725.8 401.0,728.1 409.0,718.9 417.0,709.0 425.0,699.6 433.0,698.2 441.0,702.1 449.0,697.4 457.0,691.2 465.0,696.8 473.0,690.1 481.0,692.6 489.0,700.7 497.0,691.5 505.0,699.1 513.0,697.3 521.0,698.4 529.0,697.9 537.0,699.7 545.0,694.1 553.0,692.9 561.0,689.0 569.0,688.0 577.0,689.9 585.0,684.3 593.0,678.7 601.0,678.3 609.0,685.6 617.0,687.6 625.0,689.4 633.0,686.3 641.0,686.6 649.0,685.2 657.0,692.7 665.0,683.4 673.0,679.4 681.0,682.2 689.0,683.7 697.0,677.7 705.0,674.3 713.0,685.3 721.0,700.2 729.0,702.6 737.0,700.2 745.0,700.5 753.0,710.4 761.0,727.5 769.0,727.7 777.0,726.2 785.0,727.7 793.0,732.5 801.0,729.5 809.0,713.3 817.0,707.9 825.0,702.3 833.0,704.0 841.0,706.6 849.0,715.6 857.0,713.8 865.0,713.1 873.0,716.3 881.0,717.8 889.0,717.8 897.0,700.5 905.0,700.8 913.0,695.1 921.0,694.2 929.0,698.3 937.0,701.1 945.0,705.4 953.0,699.4 961.0,703.7 969.0,699.7 977.0,697.6 985.0,692.4 993.0,697.4 1001.0,695.3 1009.0,696.4 1017.0,693.5 1025.0,693.9 1033.0,687.4 1041.0,689.6 1049.0,686.1 1057.0,684.3 1065.0,682.1 1073.0,684.7 1081.0,689.7 1089.0,690.9 1097.0,687.9 1105.0,687.0 1113.0,685.0 1121.0,682.5 1129.0,675.4 1137.0,686.3 1145.0,688.7 1153.0,690.3 1161.0,689.8 1169.0,694.8 1177.0,701.1 1185.0,695.7 1193.0,687.5 1201.0,702.5 1209.0,698.5 1217.0,697.8 1225.0,696.9 1233.0,692.5 1241.0,699.2 1249.0,693.6 1257.0,692.5 1265.0,695.0 1273.0,701.5 1281.0,693.9 1289.0,713.9 1297.0,718.5 1305.0,716.5 1313.0,720.9 1321.0,724.7 1329.0,725.3 1337.0,698.6 1345.0,696.6 1353.0,694.6 1361.0,703.6 1369.0,702.4 1377.0,706.3 1385.0,704.7 1393.0,696.5 1401.0,712.6 1409.0,715.3 1417.0,719.4 1425.0,714.5 1433.0,708.7 1441.0,698.2 1449.0,702.8 1457.0,698.9 1465.0,698.5 1473.0,695.4 1481.0,694.0 1489.0,695.5 1497.0,690.5 1505.0,690.4 1513.0,692.9 1521.0,691.7 1529.0,693.8 1537.0,692.3 1545.0,701.0 1553.0,698.3 1561.0,702.1 1569.0,710.1 1577.0,707.5 1585.0,702.8 1593.0,706.2 1601.0,706.7 1609.0,705.3 1617.0,712.4 1625.0,715.3 1633.0,712.1 1641.0,702.6 1649.0,702.0 1657.0,702.9 1665.0,702.4" fill="none" stroke="#1e90ff" stroke-width="1" shape-rendering="crispEdges"/><rect x="0" y="31" width="1687" height="1" fill="#000"/><rect x="0" y="486" width="1687" height="1" fill="#000"/><rect x="0" y="31" width="1" height="456" fill="#000"/><rect x="1686" y="31" width="1" height="456" fill="#000"/><rect x="0" y="488" width="1687" height="1" fill="#000"/><rect x="0" y="635" width="1687" height="1" fill="#000"/><rect x="0" y="488" width="1" height="148" fill="#000"/><rect x="1686" y="488" width="1" height="148" fill="#000"/><rect x="0" y="637" width="1687" height="1" fill="#000"/><rect x="0" y="772" width="1687" height="1" fill="#000"/><rect x="0" y="637" width="1" height="136" fill="#000"/><rect x="1686" y="637" width="1" height="136" fill="#000"/><rect x="1687" y="54" width="2" height="1" fill="#000"/><rect x="1687" y="87" width="2" height="1" fill="#000"/><rect x="1687" y="120" width="2" height="1" fill="#000"/><rect x="1687" y="154" width="2" height="1" fill="#000"/><rect x="1687" y="186" width="2" height="1" fill="#000"/><rect x="1687" y="219" width="2" height="1" fill="#000"/><rect x="1687" y="252" width="2" height="1" fill="#000"/><rect x="1687" y="285" width="2" height="1" fill="#000"/><rect x="1687" y="318" width="2" height="1" fill="#000"/><rect x="1687" y="351" width="2" height="1" fill="#000"/><rect x="1687" y="384" width="2" height="1" fill="#000"/><rect x="1687" y="417" width="2" height="1" fill="#000"/><rect x="1687" y="450" width="2" height="1" fill="#000"/><rect x="1687" y="483" width="2" height="1" fill="#000"/><rect x="1687" y="490" width="2" height="1" fill="#000"/><rect x="1687" y="582" width="2" height="1" fill="#000"/><rect x="1" y="773" width="1" height="3" fill="#000"/><rect x="65" y="773" width="1" height="3" fill="#000"/><rect x="129" y="773" width="1" height="3" fill="#000"/><rect x="193" y="773" width="1" height="3" fill="#000"/><rect x="257" y="773" width="1" height="3" fill="#000"/><rect x="321" y="773" width="1" height="3" fill="#000"/><rect x="385" y="773" width="1" height="3" fill="#000"/><rect x="449" y="773" width="1" height="3" fill="#000"/><rect x="513" y="773" width="1" height="3" fill="#000"/><rect x="577" y="773" width="1" height="3" fill="#000"/><rect x="641" y="773" width="1" height="3" fill="#000"/><rect x="705" y="773" width="1" height="3" fill="#000"/><rect x="769" y="773" width="1" height="3" fill="#000"/><rect x="833" y="773" width="1" height="3" fill="#000"/><rect x="897" y="773" width="1" height="3" fill="#000"/><rect x="961" y="773" width="1" height="3" fill="#000"/><rect x="1025" y="773" width="1" height="3" fill="#000"/><rect x="1089" y="773" width="1" height="3" fill="#000"/><rect x="1153" y="773" width="1" height="3" fill="#000"/><rect x="1217" y="773" width="1" height="3" fill="#000"/><rect x="1281" y="773" width="1" height="3" fill="#000"/><rect x="1345" y="773" width="1" height="3" fill="#000"/><rect x="1409" y="773" width="1" height="3" fill="#000"/><rect x="1473" y="773" width="1" height="3" fill="#000"/><rect x="1537" y="773" width="1" height="3" fill="#000"/><rect x="1601" y="773" width="1" height="3" fill="#000"/><rect x="1665" y="773" width="1" height="3" fill="#000"/>
<g><text x="1692" y="58" font-size="10" textLength="28" lengthAdjust="spacingAndGlyphs" fill="#000" stroke="#000" stroke-width="0.2">43.910</text><text x="1692" y="91" font-size="10" textLength="28" lengthAdjust="spacingAndGlyphs" fill="#000" stroke="#000" stroke-width="0.2">43.355</text><text x="1692" y="124" font-size="10" textLength="28" lengthAdjust="spacingAndGlyphs" fill="#000" stroke="#000" stroke-width="0.2">42.815</text><text x="1692" y="158" font-size="10" textLength="28" lengthAdjust="spacingAndGlyphs" fill="#000" stroke="#000" stroke-width="0.2">42.275</text><text x="1692" y="190" font-size="10" textLength="28" lengthAdjust="spacingAndGlyphs" fill="#000" stroke="#000" stroke-width="0.2">41.735</text><text x="1692" y="223" font-size="10" textLength="28" lengthAdjust="spacingAndGlyphs" fill="#000" stroke="#000" stroke-width="0.2">41.195</text><text x="1692" y="256" font-size="10" textLength="28" lengthAdjust="spacingAndGlyphs" fill="#000" stroke="#000" stroke-width="0.2">40.640</text><text x="1692" y="289" font-size="10" textLength="28" lengthAdjust="spacingAndGlyphs" fill="#000" stroke="#000" stroke-width="0.2">40.100</text><text x="1692" y="322" font-size="10" textLength="28" lengthAdjust="spacingAndGlyphs" fill="#000" stroke="#000" stroke-width="0.2">39.560</text><text x="1692" y="355" font-size="10" textLength="28" lengthAdjust="spacingAndGlyphs" fill="#000" stroke="#000" stroke-width="0.2">39.020</text><text x="1692" y="388" font-size="10" textLength="28" lengthAdjust="spacingAndGlyphs" fill="#000" stroke="#000" stroke-width="0.2">38.465</text><text x="1692" y="421" font-size="10" textLength="28" lengthAdjust="spacingAndGlyphs" fill="#000" stroke="#000" stroke-width="0.2">37.925</text><text x="1692" y="454" font-size="10" textLength="28" lengthAdjust="spacingAndGlyphs" fill="#000" stroke="#000" stroke-width="0.2">37.385</text><text x="1692" y="487" font-size="10" textLength="28" lengthAdjust="spacingAndGlyphs" fill="#000" stroke="#000" stroke-width="0.2">36.845</text><rect x="1688" y="73" width="33" height="11" fill="#32cd32"/><text x="1692" y="83" font-size="10" textLength="28" lengthAdjust="spacingAndGlyphs" fill="#fff" stroke="#fff" stroke-width="0.2">43.500</text><rect x="1688" y="194" width="33" height="11" fill="#4169e1"/><text x="1692" y="204" font-size="10" textLength="28" lengthAdjust="spacingAndGlyphs" fill="#fff" stroke="#fff" stroke-width="0.2">41.500</text><rect x="1688" y="316" width="33" height="11" fill="#4169e1"/><text x="1692" y="326" font-size="10" textLength="28" lengthAdjust="spacingAndGlyphs" fill="#fff" stroke="#fff" stroke-width="0.2">39.500</text><rect x="1688" y="467" width="33" height="11" fill="#4169e1"/><text x="1692" y="477" font-size="10" textLength="28" lengthAdjust="spacingAndGlyphs" fill="#fff" stroke="#fff" stroke-width="0.2">37.000</text><rect x="1688" y="95" width="33" height="11" fill="#000"/><text x="1692" y="104" font-size="10" textLength="28" lengthAdjust="spacingAndGlyphs" fill="#fff" stroke="#fff" stroke-width="0.2">43.150</text><text x="1690.5" y="499" font-size="10" textLength="27" lengthAdjust="spacingAndGlyphs" fill="#000" stroke="#000" stroke-width="0.2">1.2985</text><text x="1690.3" y="586" font-size="10" textLength="17.6" lengthAdjust="spacingAndGlyphs" fill="#000" stroke="#000" stroke-width="0.2">0.00</text><text x="1690.3" y="632.5" font-size="10" textLength="30" lengthAdjust="spacingAndGlyphs" fill="#000" stroke="#000" stroke-width="0.2">-0.7362</text><text x="1690.3" y="648" font-size="10" textLength="14.5" lengthAdjust="spacingAndGlyphs" fill="#000" stroke="#000" stroke-width="0.2">100</text><text x="1689.3" y="682" font-size="10" textLength="10" lengthAdjust="spacingAndGlyphs" fill="#000" stroke="#000" stroke-width="0.2">70</text><text x="1689.3" y="736" font-size="10" textLength="10" lengthAdjust="spacingAndGlyphs" fill="#000" stroke="#000" stroke-width="0.2">30</text><text x="1690" y="769" font-size="10" textLength="5" lengthAdjust="spacingAndGlyphs" fill="#000" stroke="#000" stroke-width="0.2">0</text><text x="0" y="785" font-size="10" textLength="44.5" lengthAdjust="spacingAndGlyphs" fill="#000" stroke="#000" stroke-width="0.2">3 Jun 2020</text><text x="64" y="785" font-size="10" textLength="47.5" lengthAdjust="spacingAndGlyphs" fill="#000" stroke="#000" stroke-width="0.2">4 Jun 12:00</text><text x="128" y="785" font-size="10" textLength="47.5" lengthAdjust="spacingAndGlyphs" fill="#000" stroke="#000" stroke-width="0.2">5 Jun 20:00</text><text x="192" y="785" font-size="10" textLength="47.5" lengthAdjust="spacingAndGlyphs" fill="#000" stroke="#000" stroke-width="0.2">9 Jun 00:00</text><text x="256" y="785" font-size="10" textLength="52" lengthAdjust="spacingAndGlyphs" fill="#000" stroke="#000" stroke-width="0.2">10 Jun 08:00</text><text x="320" y="785" font-size="10" textLength="52" lengthAdjust="spacingAndGlyphs" fill="#000" stroke="#000" stroke-width="0.2">11 Jun 16:00</text><text x="384" y="785" font-size="10" textLength="52" lengthAdjust="spacingAndGlyphs" fill="#000" stroke="#000" stroke-width="0.2">14 Jun 23:00</text><text x="448" y="785" font-size="10" textLength="52" lengthAdjust="spacingAndGlyphs" fill="#000" stroke="#000" stroke-width="0.2">16 Jun 04:00</text><text x="512" y="785" font-size="10" textLength="52" lengthAdjust="spacingAndGlyphs" fill="#000" stroke="#000" stroke-width="0.2">17 Jun 12:00</text><text x="576" y="785" font-size="10" textLength="52" lengthAdjust="spacingAndGlyphs" fill="#000" stroke="#000" stroke-width="0.2">18 Jun 20:00</text><text x="640" y="785" font-size="10" textLength="52" lengthAdjust="spacingAndGlyphs" fill="#000" stroke="#000" stroke-width="0.2">22 Jun 00:00</text><text x="704" y="785" font-size="10" textLength="52" lengthAdjust="spacingAndGlyphs" fill="#000" stroke="#000" stroke-width="0.2">23 Jun 08:00</text><text x="768" y="785" font-size="10" textLength="52" lengthAdjust="spacingAndGlyphs" fill="#000" stroke="#000" stroke-width="0.2">24 Jun 16:00</text><text x="832" y="785" font-size="10" textLength="52" lengthAdjust="spacingAndGlyphs" fill="#000" stroke="#000" stroke-width="0.2">26 Jun 04:00</text><text x="896" y="785" font-size="10" textLength="52" lengthAdjust="spacingAndGlyphs" fill="#000" stroke="#000" stroke-width="0.2">29 Jun 08:00</text><text x="960" y="785" font-size="10" textLength="52" lengthAdjust="spacingAndGlyphs" fill="#000" stroke="#000" stroke-width="0.2">30 Jun 16:00</text><text x="1024" y="785" font-size="10" textLength="44.25" lengthAdjust="spacingAndGlyphs" fill="#000" stroke="#000" stroke-width="0.2">2 Jul 00:00</text><text x="1088" y="785" font-size="10" textLength="44.25" lengthAdjust="spacingAndGlyphs" fill="#000" stroke="#000" stroke-width="0.2">3 Jul 08:00</text><text x="1152" y="785" font-size="10" textLength="44.25" lengthAdjust="spacingAndGlyphs" fill="#000" stroke="#000" stroke-width="0.2">6 Jul 16:00</text><text x="1216" y="785" font-size="10" textLength="44.25" lengthAdjust="spacingAndGlyphs" fill="#000" stroke="#000" stroke-width="0.2">8 Jul 04:00</text><text x="1280" y="785" font-size="10" textLength="44.25" lengthAdjust="spacingAndGlyphs" fill="#000" stroke="#000" stroke-width="0.2">9 Jul 08:00</text><text x="1344" y="785" font-size="10" textLength="48.75" lengthAdjust="spacingAndGlyphs" fill="#000" stroke="#000" stroke-width="0.2">10 Jul 16:00</text><text x="1408" y="785" font-size="10" textLength="48.75" lengthAdjust="spacingAndGlyphs" fill="#000" stroke="#000" stroke-width="0.2">13 Jul 20:00</text><text x="1472" y="785" font-size="10" textLength="48.75" lengthAdjust="spacingAndGlyphs" fill="#000" stroke="#000" stroke-width="0.2">15 Jul 04:00</text><text x="1536" y="785" font-size="10" textLength="48.75" lengthAdjust="spacingAndGlyphs" fill="#000" stroke="#000" stroke-width="0.2">16 Jul 12:00</text><text x="1600" y="785" font-size="10" textLength="48.75" lengthAdjust="spacingAndGlyphs" fill="#000" stroke="#000" stroke-width="0.2">17 Jul 20:00</text><text x="1664" y="785" font-size="10" textLength="48.75" lengthAdjust="spacingAndGlyphs" fill="#000" stroke="#000" stroke-width="0.2">20 Jul 21:15</text><path d="M4,38 L11,38 L7.5,42 Z" fill="#000"/><text x="17" y="42.3" font-size="9.5" textLength="169" lengthAdjust="spacingAndGlyphs" fill="#000" stroke="#000" stroke-width="0.2">UKOil-,H4&#160;&#160;43.150 43.150 43.150 43.150</text><text x="5" y="501" font-size="10" textLength="127" lengthAdjust="spacingAndGlyphs" fill="#000" stroke="#000" stroke-width="0.2">MACD(12,26,9) 0.0095 0.0121</text><text x="5" y="650" font-size="10" textLength="67.5" lengthAdjust="spacingAndGlyphs" fill="#000" stroke="#000" stroke-width="0.2">RSI(14) 52.1637</text><text x="1304.3 1339.9 1376.5 1413.3 1448.8" y="407.8" font-size="37.5" fill="#ed1c24" style="font-family:'Noto Sans CJK SC',sans-serif">多空转折点<tspan x="1485 1508 1527 1539" y="407.3" font-size="39.5">43.5</tspan></text></g>
</svg></body></html>
